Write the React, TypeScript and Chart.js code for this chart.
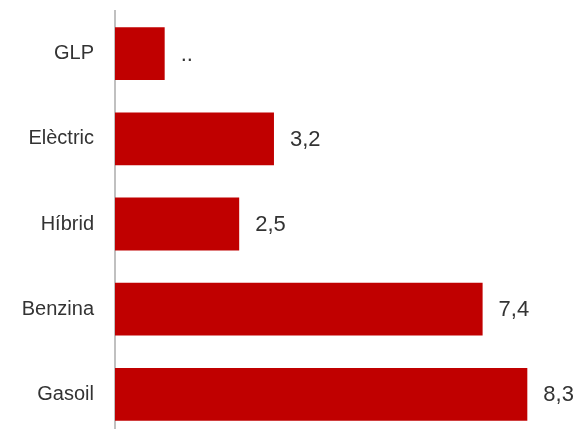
import React, { useEffect, useRef } from "react";
import { Chart, registerables } from "chart.js";

Chart.register(...registerables);

const categories = ["GLP", "Elèctric", "Híbrid", "Benzina", "Gasoil"];
const values = [1.0, 3.2, 2.5, 7.4, 8.3];
const valueLabels = ["..", "3,2", "2,5", "7,4", "8,3"];

const FONT = "'Liberation Sans', Arial, sans-serif";

const labelPlugin = {
  id: "valueLabels",
  afterDatasetsDraw(chart: any) {
    const ctx = chart.ctx;
    const meta = chart.getDatasetMeta(0);
    ctx.save();
    ctx.fillStyle = "#333333";
    ctx.font = `22px ${FONT}`;
    ctx.textBaseline = "middle";
    ctx.textAlign = "left";
    meta.data.forEach((bar: any, i: number) => {
      ctx.fillText(valueLabels[i], bar.x + 16, bar.y + 1);
    });
    ctx.restore();
  },
};

export default function App() {
  const ref = useRef<HTMLCanvasElement>(null);
  useEffect(() => {
    if (!ref.current) return;
    const chart = new Chart(ref.current, {
      type: "bar",
      data: {
        labels: categories,
        datasets: [
          {
            data: values,
            backgroundColor: "#C00000",
            borderWidth: 0,
            categoryPercentage: 1,
            barPercentage: 0.62,
          },
        ],
      },
      plugins: [labelPlugin],
      options: {
        indexAxis: "y",
        animation: false,
        responsive: false,
        maintainAspectRatio: false,
        layout: { padding: { top: 11, right: 0, bottom: 0, left: 0 } },
        plugins: { legend: { display: false }, tooltip: { enabled: false } },
        scales: {
          x: { display: false, min: 0, max: 9.3 },
          y: {
            afterFit: (scale: any) => {
              scale.width = 115;
              scale.paddingTop = 0;
              scale.paddingBottom = 0;
            },
            grid: { display: false, drawTicks: false },
            border: { display: true, color: "#c0c0c0", width: 2 },
            ticks: {
              padding: 21,
              color: "#333333",
              font: { family: FONT, size: 20 },
            },
          },
        },
      },
    });
    return () => chart.destroy();
  }, []);
  return (
    <div style={{ position: "absolute", left: 0, top: 0, width: 577, height: 437 }}>
      <canvas ref={ref} width={577} height={437} style={{ display: "block" }} />
    </div>
  );
}
